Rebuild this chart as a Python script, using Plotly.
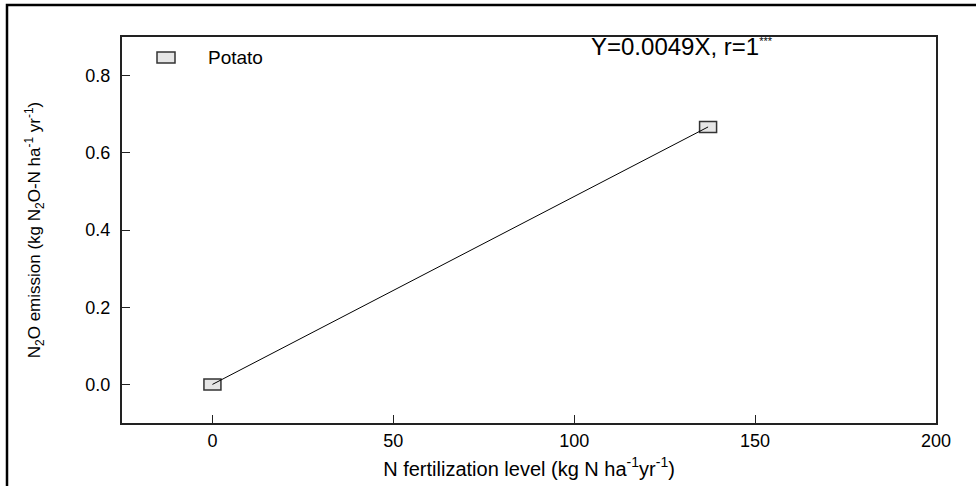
import plotly.graph_objects as go

# Data
n_rate = [0, 137]
n2o_emission = [0.0, 0.667]
series_name = "Potato"
x_ticks = [0, 50, 100, 150, 200]
y_ticks = [0.0, 0.2, 0.4, 0.6, 0.8]
y_tick_labels = ["0.0", "0.2", "0.4", "0.6", "0.8"]
equation = "Y=0.0049X, r=1"

FONT = "Liberation Sans, Arial, sans-serif"

fig = go.Figure()
fig.add_trace(go.Scatter(
    x=n_rate, y=n2o_emission, mode="lines", name=series_name,
    line=dict(color="black", width=1), showlegend=False, hoverinfo="skip"))

# rectangular markers anchored to the data values
shapes = []
for xv, yv in zip(n_rate, n2o_emission):
    shapes.append(dict(
        type="rect", xref="x", yref="y", layer="below",
        xsizemode="pixel", xanchor=xv, x0=-8.5, x1=8.5,
        ysizemode="pixel", yanchor=yv, y0=-5.5, y1=5.5,
        fillcolor="#e6e6e6", line=dict(color="#333333", width=1.5)))

# outer figure frame (left and top visible)
L, R, T, B = 122, 40, 37, 63
W, H = 976, 486
pw, ph = W - L - R, H - T - B
def px(x):
    return (x - L) / pw
def py(y):
    return (H - B - y) / ph

shapes.append(dict(type="path", xref="paper", yref="paper",
                   path=f"M {px(7)} {py(500)} L {px(7)} {py(5)} L {px(1000)} {py(5)}",
                   line=dict(color="black", width=2.5)))
# legend box
shapes.append(dict(type="rect", xref="paper", yref="paper",
                   x0=px(157), x1=px(175), y0=py(63), y1=py(52),
                   fillcolor="#e6e6e6", line=dict(color="#333333", width=1.5)))

annotations = [
    dict(xref="paper", yref="paper", x=px(206), y=py(57.5), xanchor="left", yanchor="middle",
         text=series_name, showarrow=False, font=dict(family=FONT, size=19, color="black")),
    dict(xref="paper", yref="paper", x=px(589), y=py(47), xanchor="left", yanchor="middle",
         text=equation + "<sup><span style='font-size:11px'>***</span></sup>", showarrow=False,
         font=dict(family=FONT, size=24, color="black")),
]

fig.update_layout(
    width=W, height=H,
    margin=dict(l=L, r=R, t=T, b=B, autoexpand=False),
    paper_bgcolor="white", plot_bgcolor="white",
    showlegend=False,
    shapes=shapes, annotations=annotations,
    font=dict(family=FONT, color="black"),
)
fig.update_xaxes(
    range=[-25, 200], tickvals=x_ticks, ticks="inside", ticklen=8, tickwidth=1,
    tickcolor="#222222", showline=True, linecolor="#222222", linewidth=2, mirror=True,
    showgrid=False, zeroline=False, tickfont=dict(family=FONT, size=18), automargin=False,
    title=dict(text="N fertilization level (kg N ha<sup>-1</sup>yr<sup>-1</sup>)",
               font=dict(family=FONT, size=20), standoff=12))
fig.update_yaxes(
    range=[-0.1, 0.9], tickvals=y_ticks, ticktext=y_tick_labels, ticks="inside", ticklen=8,
    tickwidth=1, tickcolor="#222222", showline=True, linecolor="#222222", linewidth=2,
    mirror=True, showgrid=False, zeroline=False, tickfont=dict(family=FONT, size=18),
    ticklabelstandoff=6, automargin=False,
    title=dict(text="N<sub>2</sub>O emission (kg N<sub>2</sub>O-N ha<sup>-1</sup> yr<sup>-1</sup>)",
               font=dict(family=FONT, size=17), standoff=40))

fig.write_html("out.html")
